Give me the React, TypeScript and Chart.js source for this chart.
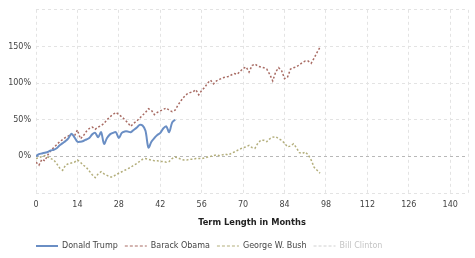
import React, { useEffect, useRef } from 'react';
import { Chart, registerables } from 'chart.js';

Chart.register(...registerables);

const seriesLabels = ['Donald Trump', 'Barack Obama', 'George W. Bush', 'Bill Clinton'];
const seriesColors = ['#6a8ec4', '#a86b63', '#b3ae7b', '#d0d0d0'];

// Percent change by month of term (index = month)
const trump = [
  0, 3, 4, 5, 6, 8, 9, 11, 15, 18, 21, 25, 31, 26, 20, 20, 21, 23, 25, 30,
  32, 26, 33, 17, 25, 30, 32, 33, 25, 32, 34, 34, 33, 36, 39, 43, 42, 35, 12, 20,
  25, 29, 32, 38, 41, 33, 46, 50,
];
const obama = [
  -8, -12, -4, -6, 2, 8, 12, 16, 20, 23, 26, 28, 30, 28, 36, 24, 28, 34, 38, 40,
  37, 40, 42, 45, 50, 54, 57, 60, 57, 54, 50, 46, 41, 45, 48, 52, 56, 60, 65, 63,
  57, 60, 62, 64, 66, 63, 61, 63, 70, 76, 81, 85, 87, 88, 91, 84, 90, 94, 100, 104,
  99, 103, 105, 107, 108, 109, 111, 113, 112, 116, 120, 122, 115, 124, 126, 123, 122, 121, 119, 112,
  103, 115, 121, 117, 106, 108, 119, 121, 122, 125, 128, 130, 130, 127, 134, 142, 149,
];
const bush = [
  -3, -2, 0, 1, -1, -3, -5, -10, -16, -19, -12, -10, -9, -8, -5, -8, -12, -15, -20, -25,
  -29, -24, -21, -24, -26, -28, -28, -25, -23, -21, -19, -17, -15, -12, -10, -7, -4, -3, -4, -5,
  -6, -6, -7, -7, -8, -7, -3, -1, -2, -4, -5, -5, -4, -4, -3, -3, -3, -2, -1, 0,
  1, 2, 1, 2, 3, 2, 4, 6, 8, 10, 12, 13, 15, 12, 11, 18, 22, 22, 20, 24,
  26, 27, 24, 22, 18, 13, 14, 17, 12, 5, 4, 6, 2, -5, -15, -19, -23,
];
const clinton: number[] = [];

const monthTicks = [0, 14, 28, 42, 56, 70, 84, 98, 112, 126, 140];
const monthMin = 0;
const monthMax = 146;
const pctMin = -50;
const pctMax = 200;
const pctStep = 50;
const xTitle = 'Term Length in Months';

const FONT = "'DejaVu Sans', Verdana, sans-serif";

const toPoints = (arr: number[]) => arr.map((v, i) => ({ x: i, y: v }));

export default function App() {
  const ref = useRef<HTMLCanvasElement | null>(null);

  useEffect(() => {
    if (!ref.current) return;
    const allSeries = [trump, obama, bush, clinton];
    const widths = [2, 1.5, 1.5, 1.5];
    const dashes: number[][] = [[], [2, 2], [2, 2], [2, 2]];

    const legendShift = {
      id: 'legendShift',
      afterLayout(chart: any) {
        const l = chart.legend;
        if (l) l.left = chart.chartArea.left - l.options.labels.padding;
      },
      beforeDraw(chart: any) {
        const l = chart.legend;
        if (l) l.left = chart.chartArea.left - l.options.labels.padding;
      },
    };

    const chart = new Chart(ref.current, {
      type: 'line',
      data: {
        datasets: allSeries.map((s, i) => ({
          label: seriesLabels[i],
          data: toPoints(s),
          borderColor: seriesColors[i],
          backgroundColor: seriesColors[i],
          borderWidth: widths[i],
          borderDash: dashes[i],
          pointRadius: 0,
          tension: i === 0 ? 0.3 : 0,
          fill: false,
        })),
      },
      options: {
        animation: false,
        responsive: false,
        layout: { padding: { top: 9, right: 3, left: 0, bottom: -2 } },
        scales: {
          x: {
            type: 'linear',
            min: monthMin,
            max: monthMax,
            afterFit: (s: any) => { s.height = 42; },
            afterBuildTicks: (s: any) => {
              s.ticks = [...monthTicks, monthMax].map((v) => ({ value: v }));
            },
            ticks: {
              padding: 7,
              color: '#444',
              font: { family: FONT, size: 8 },
              maxRotation: 0,
              autoSkip: false,
              callback: (v: any) => (monthTicks.includes(Number(v)) ? String(v) : ''),
            },
            grid: { color: '#e3e3e3', drawTicks: false, lineWidth: 1 },
            border: { display: false, dash: [3, 3] },
            title: {
              display: true,
              text: xTitle,
              color: '#222',
              font: { family: FONT, size: 8.3, weight: 'bold' },
              padding: { top: 0, bottom: 7.5 },
            },
          },
          y: {
            type: 'linear',
            min: pctMin,
            max: pctMax,
            afterFit: (s: any) => { s.width = 36; },
            ticks: {
              stepSize: pctStep,
              padding: 5,
              color: '#444',
              font: { family: FONT, size: 8 },
              callback: (v: any) => (Number(v) === pctMin || Number(v) === pctMax ? '' : v + '%'),
            },
            grid: {
              drawTicks: false,
              color: (c: any) => (c.tick && c.tick.value === 0 ? '#b8b8b8' : '#e3e3e3'),
            },
            border: { display: false, dash: [3, 3] },
          },
        },
        plugins: {
          tooltip: { enabled: false },
          legend: {
            position: 'bottom',
            align: 'start',
            labels: {
              usePointStyle: true,
              pointStyleWidth: 22,
              boxWidth: 22,
              boxHeight: 8,
              padding: 7,
              font: { family: FONT, size: 8 },
              generateLabels: () =>
                seriesLabels.map((t, i) => ({
                  text: t,
                  fillStyle: seriesColors[i],
                  strokeStyle: seriesColors[i],
                  lineWidth: i === 0 ? 2 : 1,
                  lineDash: i === 0 ? [] : [3, 2],
                  pointStyle: 'line',
                  hidden: false,
                  fontColor: i === 3 ? '#c4c4c4' : '#444',
                  datasetIndex: i,
                })),
            },
          },
        },
      } as any,
      plugins: [legendShift],
    });
    return () => chart.destroy();
  }, []);

  return (
    <div style={{ position: 'absolute', left: 0, top: 0, width: 475, height: 258, background: '#fff' }}>
      <canvas ref={ref} width={475} height={258} style={{ display: 'block', width: 475, height: 258 }} />
    </div>
  );
}
